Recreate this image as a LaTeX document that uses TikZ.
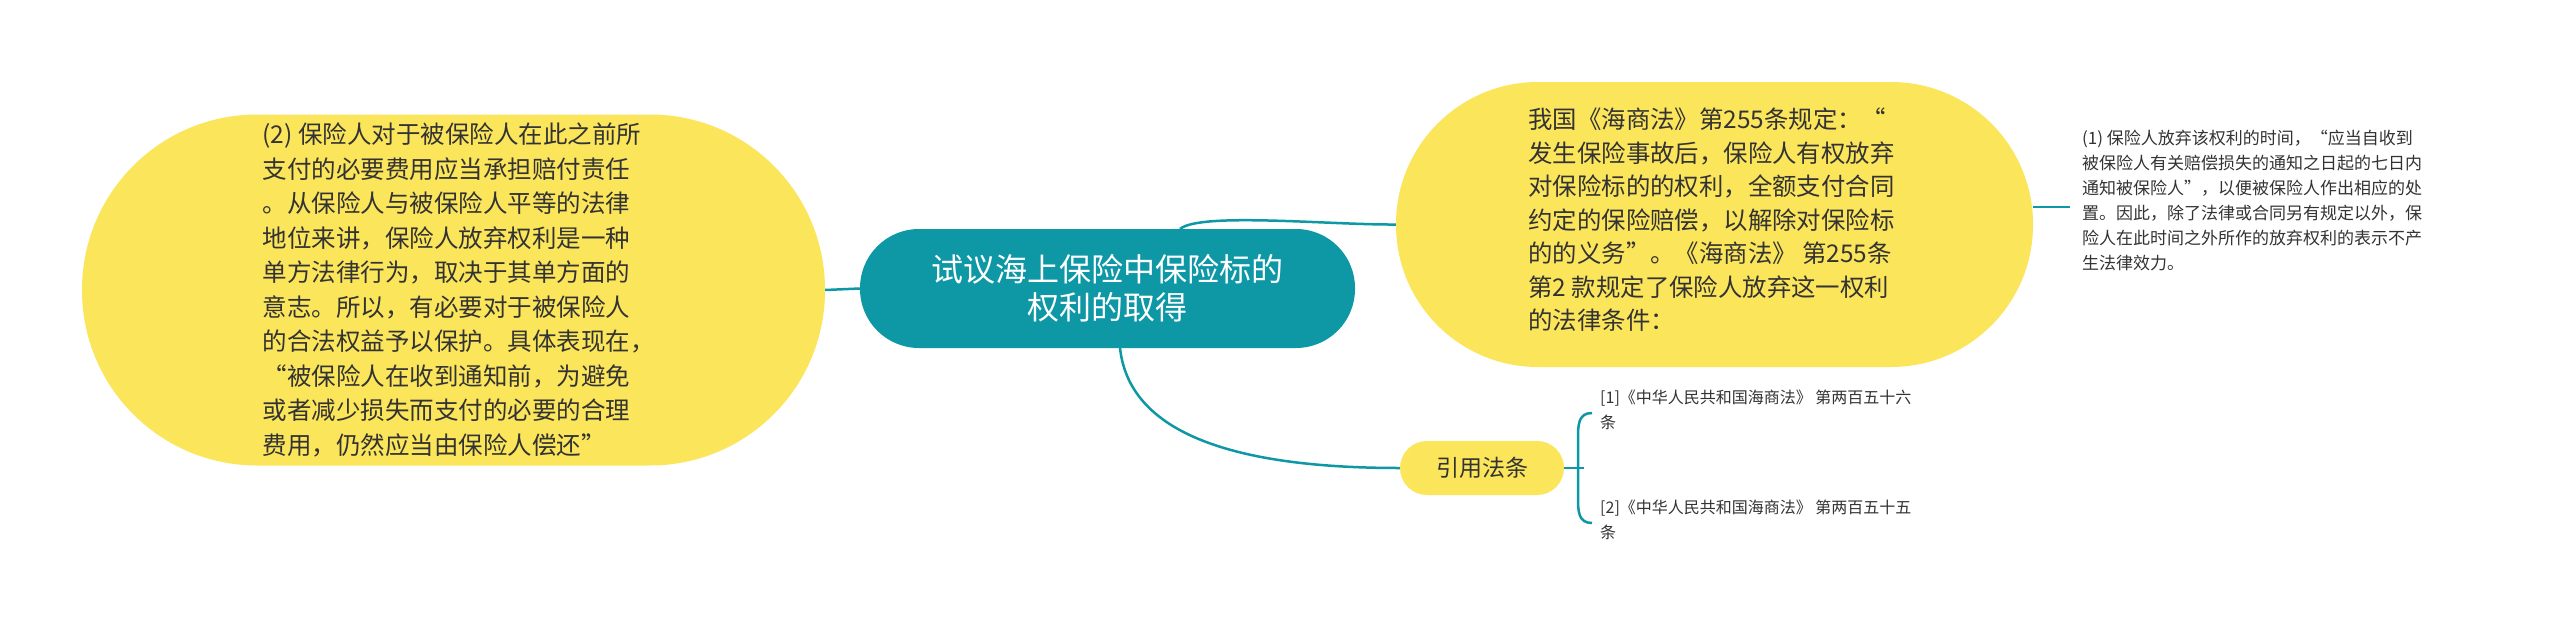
\documentclass[tikz,border=0pt]{standalone}
\usepackage{fontspec}
\setmainfont{Noto Sans CJK SC}
\definecolor{teal1}{HTML}{0E97A5}
\definecolor{yel}{HTML}{FBE55B}
\definecolor{txt}{HTML}{333333}
\begin{document}
\begin{tikzpicture}[x=1pt,y=-1pt,
  conn/.style={draw=teal1,line width=2.5pt},
  every node/.style={font=\fontsize{22}{36}\selectfont}]
\useasboundingbox (0,0) rectangle (2560,640);
\fill[white] (0,0) rectangle (2560,640);
% left node
\node[fill=yel,draw=none,minimum width=743pt,minimum height=351pt,rounded corners=175pt] (L) at (453.5,290) {};
\node[text=txt,align=left,anchor=west,font=\fontsize{24.5}{34.5}\selectfont] (Lt) at (259,290) {(2) 保险人对于被保险人在此之前所\\支付的必要费用应当承担赔付责任\\。从保险人与被保险人平等的法律\\地位来讲，保险人放弃权利是一种\\单方法律行为，取决于其单方面的\\意志。所以，有必要对于被保险人\\的合法权益予以保护。具体表现在，\\“被保险人在收到通知前，为避免\\或者减少损失而支付的必要的合理\\费用，仍然应当由保险人偿还”};
% right node
\node[fill=yel,minimum width=637pt,minimum height=285pt,rounded corners=142pt] (R) at (1714.5,224.5) {};
\node[text=txt,align=left,anchor=west,font=\fontsize{24.4}{33.5}\selectfont] (Rt) at (1525,220) {我国《海商法》第255条规定：“\\发生保险事故后，保险人有权放弃\\对保险标的的权利，全额支付合同\\约定的保险赔偿，以解除对保险标\\的的义务”。《海商法》 第255条\\第2 款规定了保险人放弃这一权利\\的法律条件：};
% center
\node[fill=teal1,text=white,minimum width=495pt,minimum height=119pt,rounded corners=59pt,align=center,font=\fontsize{32}{38}\selectfont] (C) at (1107.5,288.5) {试议海上保险中保险标的\\权利的取得};
% cite
\node[fill=yel,text=txt,minimum width=164pt,minimum height=54pt,rounded corners=27pt,font=\fontsize{23}{26}\selectfont] (Y) at (1482,468) {引用法条};
% small text
\node[text=txt,align=left,anchor=north west,inner sep=0pt,font=\fontsize{17}{25}\selectfont] (S) at (2082,130) {(1) 保险人放弃该权利的时间，“应当自收到\\被保险人有关赔偿损失的通知之日起的七日内\\通知被保险人”，以便被保险人作出相应的处\\置。因此，除了法律或合同另有规定以外，保\\险人在此时间之外所作的放弃权利的表示不产\\生法律效力。};
\node[text=txt,align=left,anchor=north west,inner sep=0pt,font=\fontsize{16}{25}\selectfont] (F1) at (1600,390) {[1]《中华人民共和国海商法》 第两百五十六\\条};
\node[text=txt,align=left,anchor=north west,inner sep=0pt,font=\fontsize{16}{25}\selectfont] (F2) at (1600,500) {[2]《中华人民共和国海商法》 第两百五十五\\条};
% connectors
\draw[conn] (C.west) -- (L.east);
\coordinate (c1) at (1180,229);
\draw[conn] (c1) .. controls (1200,212) and (1330,225) .. (R.west);
\coordinate (r1) at (2070,207);
\draw[conn] (R.east |- r1) -- (r1);
\coordinate (c2) at (1120,348);
\draw[conn] (c2) .. controls (1130,440) and (1250,468) .. (Y.west);
\coordinate (b0) at (1584,468);
\coordinate (bt) at (1592,413);
\coordinate (bb) at (1592,523);
\draw[conn] (Y.east) -- (b0);
\draw[conn] (bt) .. controls (1578,413) and (1578,425) .. (1578,440) -- (1578,496) .. controls (1578,511) and (1578,523) .. (bb);
\end{tikzpicture}
\end{document}
